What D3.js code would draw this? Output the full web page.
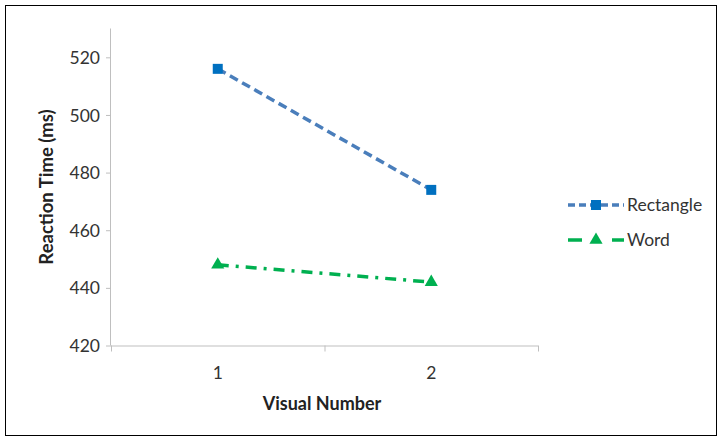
<!DOCTYPE html>
<html><head><meta charset="utf-8">
<script src="https://cdn.jsdelivr.net/npm/d3@7"></script>
<style>body{margin:0;background:#fff}svg{display:block}text{font-family:Lato,"Open Sans",sans-serif}</style>
</head><body>
<svg id="c" width="719" height="438"></svg>
<script>
const categories = ["1", "2"];
const rectangle = [516, 474];
const word = [448, 442];
const yTicks = [420, 440, 460, 480, 500, 520];
const seriesNames = ["Rectangle", "Word"];

(function(){
const svg = d3.select("#c");
svg.append("rect").attr("x",5.5).attr("y",5.5).attr("width",711).attr("height",430)
  .attr("fill","#fff").attr("stroke","#000").attr("stroke-width",1);

const pL=111, pR=538, pT=28.5, pB=345.5;
const FS=17.5;
const x = d3.scaleBand().domain(categories).range([pL,pR]);
const y = d3.scaleLinear().domain([420,530]).range([pB,pT]);

// y axis
const ya = svg.append("g").attr("transform",`translate(${pL},0)`)
  .call(d3.axisLeft(y).tickValues(yTicks).tickSize(5).tickPadding(6));
ya.select(".domain").attr("stroke","#bfbfbf").attr("d",`M-0.5,${pT}V${pB}`);
ya.selectAll(".tick line").attr("stroke","#bfbfbf");
ya.selectAll("text").attr("font-size",FS).attr("fill","#333").attr("dy","0.35em");
ya.attr("font-family",null).attr("font-size",null);

// x axis
const xa = svg.append("g").attr("transform",`translate(0,${pB})`);
xa.append("path").attr("d",`M${pL},0.5H${pR}`).attr("stroke","#bfbfbf");
const edges=[pL, pL+x.step(), pR];
xa.selectAll("line.t").data(edges).join("line").attr("x1",d=>d+0.5).attr("x2",d=>d+0.5)
  .attr("y1",0).attr("y2",6).attr("stroke","#bfbfbf");
xa.selectAll("text").data(categories).join("text")
  .attr("x",d=>x(d)+x.bandwidth()/2).attr("y",33).attr("text-anchor","middle")
  .attr("font-size",FS).attr("fill","#333").text(d=>d);

svg.append("text").attr("x",322).attr("y",410).attr("text-anchor","middle")
  .attr("font-size",18).attr("font-weight","bold").attr("fill","#222").text("Visual Number");
svg.append("text").attr("transform",`translate(53,${(pT+pB)/2}) rotate(-90)`)
  .attr("text-anchor","middle").attr("font-size",18.5).attr("font-weight","bold").attr("fill","#222")
  .text("Reaction Time (ms)");

const cx = c=>x(c)+x.bandwidth()/2;
const line = d3.line().x((d,i)=>cx(categories[i])).y(d=>y(d));
const specs = [
  {vals:rectangle, line:"#4a7ebb", mark:"#0070c0", dash:"9,5", legDash:"7,4", sym:d3.symbolSquare, size:100},
  {vals:word, line:"#00b050", mark:"#00b050", dash:"11,7,3,7", legDash:"14,30,12", sym:d3.symbolTriangle, size:75}
];
specs.forEach(s=>{
  svg.append("path").datum(s.vals).attr("d",line).attr("fill","none")
    .attr("stroke",s.line).attr("stroke-width",3.5).attr("stroke-dasharray",s.dash);
  svg.selectAll(null).data(s.vals).join("path")
    .attr("transform",(d,i)=>`translate(${cx(categories[i])},${y(d)})`)
    .attr("d",d3.symbol().type(s.sym).size(s.size)).attr("fill",s.mark);
});

// legend
const lg = svg.append("g");
seriesNames.forEach((n,i)=>{
  const s=specs[i], ly=205+i*35;
  lg.append("line").attr("x1",568).attr("x2",624).attr("y1",ly).attr("y2",ly)
    .attr("stroke",s.line).attr("stroke-width",3.5).attr("stroke-dasharray",s.legDash);
  lg.append("path").attr("transform",`translate(596,${ly})`)
    .attr("d",d3.symbol().type(s.sym).size(s.size)).attr("fill",s.mark);
  lg.append("text").attr("x",627).attr("y",ly).attr("dy","0.35em").attr("font-size",FS)
    .attr("fill","#333").text(n);
});
})();
</script>
</body></html>
